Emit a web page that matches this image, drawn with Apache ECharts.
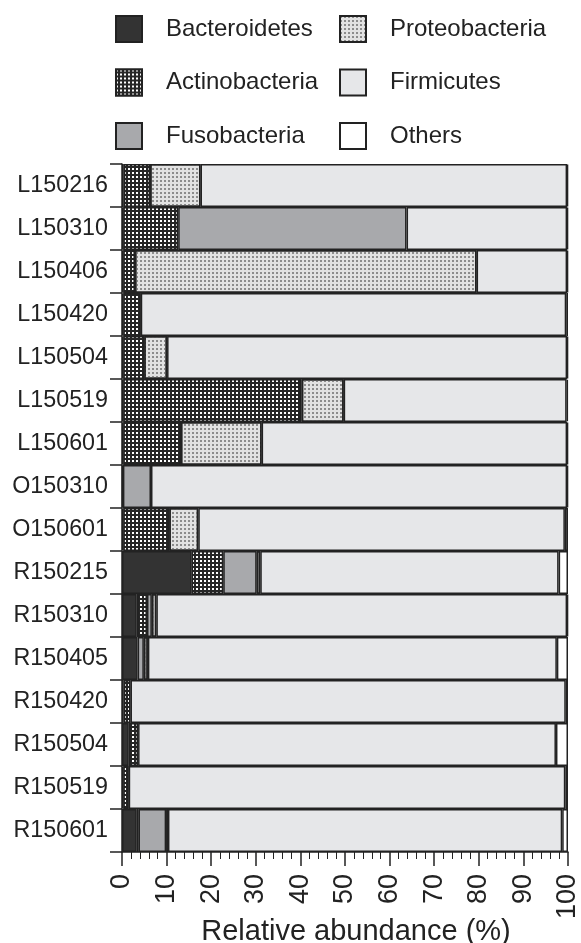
<!DOCTYPE html>
<html>
<head>
<meta charset="utf-8">
<script src="https://cdn.jsdelivr.net/npm/echarts@6/dist/echarts.min.js"></script>
<style>
html,body{margin:0;padding:0;background:#fff;}
#chart{width:581px;height:943px;}
</style>
</head>
<body>
<div id="chart"></div>
<script>
var samples = ['L150216','L150310','L150406','L150420','L150504','L150519','L150601','O150310','O150601','R150215','R150310','R150405','R150420','R150504','R150519','R150601'];
var bacteroidetes  = [0.4, 0.3, 0.3, 0.3, 0.3, 0.3, 0.3, 0.2, 0.3, 15.6, 3.3, 3.5, 0.4, 1.5, 0.3, 3.3];
var actinobacteria = [5.9, 12.3, 2.6, 3.9, 4.7, 39.6, 12.9, 0, 10.3, 7.1, 2.3, 0, 1.5, 2.1, 1.2, 0.4];
var fusobacteria   = [0, 51.2, 0, 0, 0, 0.4, 0, 6.3, 0, 7.5, 1.1, 1.4, 0, 0, 0, 6.2];
var proteobacteria = [11.3, 0, 76.6, 0, 5.1, 9.4, 18.1, 0, 6.5, 0.8, 1.0, 0.9, 0, 0, 0, 0.4];
var firmicutes     = [82.2, 36.0, 20.3, 95.4, 89.7, 50.0, 68.5, 93.3, 82.2, 66.9, 92.1, 91.7, 97.6, 93.7, 97.9, 88.4];
var others         = [0.2, 0.2, 0.2, 0.4, 0.2, 0.3, 0.2, 0.2, 0.7, 2.1, 0.2, 2.5, 0.5, 2.7, 0.6, 1.3];
var xTicks = [0,10,20,30,40,50,60,70,80,90,100];

var FONT = '"Liberation Sans", Arial, sans-serif';
var INK = '#222222';

function nz(arr){ return arr.map(function(v){ return v === 0 ? '-' : v; }); }

function mk(name, data, color, decal){
  var s = {
    name: name, type: 'bar', stack: 'total', data: nz(data),
    barCategoryGap: 0,
    itemStyle: { color: color, borderColor: INK, borderWidth: 1.5 },
    emphasis: { disabled: true }
  };
  if (decal) s.itemStyle.decal = decal;
  return s;
}

var legendText = { fontFamily: FONT, fontSize: 24, color: INK, padding: [0,0,0,19], lineHeight: 26 };

var chart = echarts.init(document.getElementById('chart'), null, {renderer: 'canvas'});
chart.setOption({
  animation: false,
  backgroundColor: '#ffffff',
  textStyle: { fontFamily: FONT, color: INK },
  legend: [
    {
      data: ['Bacteroidetes','Actinobacteria','Fusobacteria'],
      orient: 'vertical', left: 110, top: 10,
      itemWidth: 26, itemHeight: 26, itemGap: 25.5,
      icon: 'rect',
      textStyle: legendText
    },
    {
      data: ['Proteobacteria','Firmicutes','Others'],
      orient: 'vertical', left: 334, top: 10,
      itemWidth: 26, itemHeight: 26, itemGap: 25.5,
      icon: 'rect',
      textStyle: legendText
    }
  ],
  grid: { left: 122, right: 13, top: 164, bottom: 91, containLabel: false, outerBoundsMode: 'none' },
  xAxis: {
    type: 'value', min: 0, max: 100, interval: 10,
    axisLine: { show: true, lineStyle: { color: INK, width: 1.5 } },
    axisTick: { show: true, length: 14, lineStyle: { color: INK, width: 1.5 } },
    minorTick: { show: true, splitNumber: 5, length: 7, lineStyle: { color: INK, width: 1 } },
    splitLine: { show: false },
    axisLabel: {
      rotate: 90, fontSize: 27, color: INK, margin: 22, fontFamily: FONT,
      formatter: function(v){ return xTicks.indexOf(v) >= 0 ? String(v) : ''; }
    },
    name: 'Relative abundance (%)', nameLocation: 'middle', nameGap: 65, nameMoveOverlap: false,
    nameTextStyle: { fontSize: 29, color: INK, fontFamily: FONT, padding: [0,0,0,22] }
  },
  yAxis: {
    type: 'category', data: samples, inverse: true,
    axisLine: { show: true, lineStyle: { color: INK, width: 1.5 } },
    axisTick: { show: true, length: 12, lineStyle: { color: INK, width: 1.5 } },
    axisLabel: { fontSize: 23.3, color: INK, margin: 14, fontFamily: FONT },
    splitLine: { show: false }
  },
  series: [
    mk('Bacteroidetes', bacteroidetes, '#333333'),
    mk('Actinobacteria', actinobacteria, '#262626', {
      symbol: 'rect', symbolSize: 1, color: '#ffffff',
      dashArrayX: [1.5, 1.5], dashArrayY: [1.5, 1.5]
    }),
    mk('Fusobacteria', fusobacteria, '#a8a9ac'),
    mk('Proteobacteria', proteobacteria, '#e2e2e2', {
      symbol: 'rect', symbolSize: 1, color: '#8c8c8c',
      dashArrayX: [1.5, 1.5], dashArrayY: [1.5, 1.5]
    }),
    mk('Firmicutes', firmicutes, '#e6e7e9'),
    mk('Others', others, '#ffffff')
  ]
});
</script>
</body>
</html>
